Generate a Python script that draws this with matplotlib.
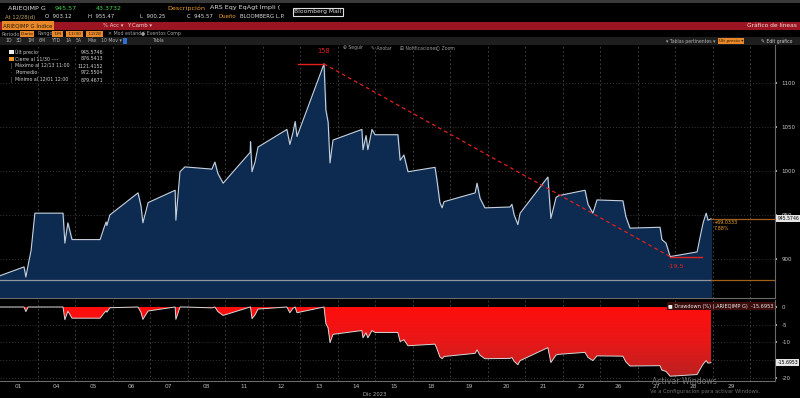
import numpy as np
import matplotlib
matplotlib.use('Agg')
from matplotlib import pyplot as plt
from matplotlib.patches import Rectangle
from matplotlib.colors import LinearSegmentedColormap
import matplotlib.transforms as mtransforms

# position in trading days since 12/01 (one unit = one session)
t = [0.00, 0.64, 0.69, 0.75, 0.83, 0.93, 1.68, 1.73, 1.81, 1.92,
     2.67, 2.77, 2.83, 2.85, 2.93, 3.68, 3.76, 3.81, 3.95, 4.67,
     4.69, 4.80, 4.93, 5.65, 5.73, 5.81, 5.95, 6.67, 6.68, 6.72,
     6.80, 6.88, 7.65, 7.73, 7.81, 7.87, 7.92, 8.64, 8.69, 8.75,
     8.80, 8.88, 9.65, 9.68, 9.76, 9.81, 9.92, 10.00, 10.61, 10.67,
     10.77, 10.88, 11.60, 11.65, 11.73, 11.79, 11.84, 12.67, 12.72, 12.80,
     12.93, 13.60, 13.65, 13.71, 13.81, 13.87, 14.61, 14.69, 14.83, 14.91,
     15.60, 15.68, 15.81, 15.92, 16.61, 16.69, 16.80, 17.60, 17.65, 17.76,
     17.87, 18.59, 18.67, 18.75, 18.83, 18.88, 18.96]
price = [881, 891, 879.5, 893, 910, 952, 952, 918, 941, 922,
         922, 935, 942, 938, 950, 975, 960, 941, 964, 978,
         944, 999, 1004.5, 1002, 1010, 997, 986, 1021, 1033, 999,
         1010, 1027, 1047, 1030, 1043, 1056, 1039, 1121.4, 1069, 1055,
         1009, 1035, 1047, 1024, 1040, 1024, 1047, 1041, 1041, 1012,
         1018, 999, 1004, 990, 964, 958, 965, 975, 986, 969,
         958, 959, 962, 950, 939, 952, 993, 946, 970, 972,
         978, 962, 952, 967, 966, 948, 935, 936, 922, 918,
         902.7, 908, 925, 941, 952, 944, 945.57]

days = ['01', '04', '05', '06', '07', '08', '11', '12', '13', '14',
        '15', '18', '19', '20', '21', '22', '26', '27', '28', '29']

last_price = 945.5746
prev_close = 876.5413
dd_last = -15.6953
max_dd = -19.5
legend_rows = [('Últ precio', '945.5746'),
               ('Cierre al 11/30 ----', '876.5413'),
               ('Máximo al 12/13 11:00', '1121.4152'),
               ('Promedio', '972.5504'),
               ('Mínimo al 12/01 12:00', '879.4671')]

W, H = 800, 398
BG = 'black'
GRID = '#4a4a4a'
TXT = '#c8c8c8'
ORANGE = '#f0a030'
RED = '#e3201e'
BOXTXT = '#2a1a00'

fig = plt.figure(figsize=(8, 3.98), dpi=100, facecolor=BG)


def fx(x):
    return x / W


def fy(y):
    return 1 - y / H


def ftext(x, y, s, **kw):
    kw.setdefault('color', TXT)
    kw.setdefault('fontsize', 4.2)
    kw.setdefault('va', 'center')
    fig.text(fx(x), fy(y), s, **kw)


def frect(x0, y0, x1, y1, **kw):
    fig.patches.append(Rectangle((fx(x0), fy(y1)), fx(x1) - fx(x0), fy(y0) - fy(y1),
                                 transform=fig.transFigure, **kw))


def obox(x, y, s, size=3.4):
    ftext(x, y, s, fontsize=size, color=BOXTXT,
          bbox=dict(boxstyle='square,pad=0.15', fc='#e8882a', ec='none'))


# ---- terminal header
frect(0, 0, 800, 3, facecolor='#3a3a3a', lw=0)
frect(0, 22, 800, 30, facecolor='#9a1521', lw=0)
frect(0, 37, 800, 45, facecolor='#1e1e1e', lw=0)

ftext(8, 8, 'ARIEQIMP G', color='#dddddd', fontsize=4.6)
ftext(55, 8, '945.57', color='#3fcf4a', fontsize=4.6)
ftext(96, 8, '43.3732', color='#3fcf4a', fontsize=4.6)
ftext(167, 8, 'Descripción', color=ORANGE, fontsize=4.6)
ftext(210, 8, 'ARS Eqy EqAgt Impli (', color='#dddddd', fontsize=4.6)
ftext(318, 12, 'Bloomberg Mail', color='#e0e0e0', fontsize=4.3, ha='center',
      bbox=dict(boxstyle='square,pad=0.3', fc='black', ec='#e0e0e0', lw=0.8))

ftext(5, 17, 'At 12/28(d)', color='#c0a060', fontsize=3.9)
for x, s in [(45, 'O  903.12'), (88, 'H  955.47'), (140, 'L  900.25'), (187, 'C  945.57')]:
    ftext(x, 17, s, color='#dddddd', fontsize=3.9)
ftext(218, 17, 'Dueño', color=ORANGE, fontsize=3.9)
ftext(240, 17, 'BLOOMBERG L.P.', color='#dddddd', fontsize=3.9)

ftext(3, 25.5, 'ARIEQIMP G Índice', color=BOXTXT, fontsize=3.9,
      bbox=dict(boxstyle='square,pad=0.25', fc='#e8882a', ec='none'))
ftext(103, 25.5, '% Acc ▾', color='#f0d0d0', fontsize=3.9)
ftext(127, 25.5, 'Y Camb ▾', color='#f0d0d0', fontsize=3.9)
ftext(797, 25.5, 'Gráfico de líneas', color='#f2e0e0', fontsize=4.2, ha='right')

ftext(2, 34, 'Periodo', fontsize=3.5, color='#a0a0a0')
obox(21, 34, 'Diario', 3.2)
ftext(37, 34, 'Rango', fontsize=3.5, color='#a0a0a0')
obox(53, 34, ' 1M ', 3.2)
obox(67, 34, ' 11/30 ', 3.2)
obox(87, 34, ' 12/28 ', 3.2)
ftext(108, 34, '✕ Mod estánd /', fontsize=3.4, color='#a0a0a0')
ftext(141, 34, '● Eventos Comp', fontsize=3.4, color='#a0a0a0')

for x, s in [(5, '1D'), (16, '3D'), (27, '1M'), (39, '6M'), (51, 'YTD'), (65, '1A'),
             (76, '5A'), (87, 'Máx'), (101, '10 Mov ▾')]:
    ftext(x, 41, s, fontsize=3.3, color='#b0b0b0')
ftext(124, 41, '  ', fontsize=3.2, bbox=dict(boxstyle='square,pad=0.15', fc='#2f6fd0', ec='none'))
ftext(152, 41, 'Tabla', fontsize=3.3, color='#b0b0b0')
ftext(666, 41, '▾ Tablas pertinentes ▾', fontsize=3.3, color='#b0b0b0')
obox(719, 41, 'Últ precio ▾', 3.2)
ftext(761, 41, '✎ Edit gráfico', fontsize=3.3, color='#d0d0d0')

# ---- axes
x_end = 775 / 37.5
ax = fig.add_axes([0, fy(298), fx(775), fy(44) - fy(298)], facecolor=BG)
ax2 = fig.add_axes([0, fy(381), fx(775), fy(300) - fy(381)], facecolor=BG, sharex=ax)

t_arr = np.array(t)
p_arr = np.array(price)
dd = (p_arr / np.maximum.accumulate(p_arr) - 1) * 100

for a in (ax, ax2):
    a.set_xlim(0, x_end)
    a.set_xticks(np.arange(1, len(days) + 1), minor=True)
    a.grid(True, which='minor', axis='x', color=GRID, ls=(0, (2, 3)), lw=0.6)
    a.grid(True, which='major', axis='y', color=GRID, ls=(0, (1, 2.5)), lw=0.6)
    for s in ('top', 'left'):
        a.spines[s].set_visible(False)
    a.spines['right'].set_color('#6a6a6a')
    a.spines['bottom'].set_color('#6a6a6a')
    a.yaxis.tick_right()
    a.tick_params(axis='y', colors=TXT, labelsize=4.0, length=1.5, width=1.2, pad=3)
    a.tick_params(axis='x', which='both', length=0)
    a.set_axisbelow(True)

ax.set_ylim(855.7, 1144)
ax.set_yticks([900, 950, 1000, 1050, 1100])
ax.tick_params(axis='x', labelbottom=False)

ax.fill_between(t_arr, p_arr, 800, color='#0d2a50', zorder=2)
ax.plot(t_arr, p_arr, color='#c8d2dc', lw=0.8, zorder=3)

# reference lines
ax.plot([0, t_arr[-1]], [prev_close, prev_close], color='#8f96a0', lw=0.9, zorder=3)
ax.plot([t_arr[-1], x_end], [prev_close, prev_close], color='#a0601c', lw=0.9, zorder=3)
ax.plot([t_arr[-1], x_end], [last_price, last_price], color='#a0601c', lw=0.9, zorder=3)

# max drawdown annotation
i_pk = int(np.argmax(p_arr))
i_tr = int(np.argmin(p_arr[i_pk:])) + i_pk
ax.plot([t_arr[i_pk], t_arr[i_tr]], [p_arr[i_pk], p_arr[i_tr]], color=RED, ls=(0, (3, 2.5)), lw=0.9, zorder=4)
ax.plot([t_arr[i_pk] - 0.7, t_arr[i_pk]], [p_arr[i_pk], p_arr[i_pk]], color=RED, lw=1.0, zorder=4)
ax.plot([t_arr[i_tr], t_arr[i_tr] + 0.85], [p_arr[i_tr], p_arr[i_tr]], color=RED, lw=1.0, zorder=4)
ax.annotate('158', (t_arr[i_pk], p_arr[i_pk]), xytext=(0, 9), textcoords='offset points',
            color=RED, fontsize=4.8, ha='center', va='center')
ax.annotate(f'{max_dd:.1f}', (t_arr[i_tr], p_arr[i_tr]), xytext=(4, -7), textcoords='offset points',
            color=RED, fontsize=4.6, ha='center', va='center')

chg = last_price - prev_close
ax.annotate(f'+{chg:.4f}\n{chg / prev_close * 100:.2f}%', (t_arr[-1], last_price), xytext=(2, -5),
            textcoords='offset points', color=ORANGE, fontsize=3.5, ha='left', va='center',
            linespacing=1.3)

ytr = mtransforms.blended_transform_factory(ax.transAxes, ax.transData)
ax.text(1.003, last_price, f'{last_price:.4f}', transform=ytr, color='black', fontsize=3.3,
        va='center', ha='left', zorder=10, clip_on=False,
        bbox=dict(boxstyle='square,pad=0.2', fc='#e6e6e6', ec='none'))

# legend block
for k, (lab, val) in enumerate(legend_rows):
    yy = 52 + k * 7
    if k == 0:
        frect(9, yy - 2.3, 13.5, yy + 2.3, facecolor='#f0f0f0', lw=0)
    elif k == 1:
        frect(9, yy - 2.3, 13.5, yy + 2.3, facecolor='#f09a20', lw=0)
    else:
        ftext(10, yy, '│' if k != 3 else '·', fontsize=3.5, color='#9aa0a8')
    ftext(15, yy, lab, fontsize=3.4, color='#d0d0d0')
    ftext(103, yy, val, fontsize=3.4, color='#d0d0d0', ha='right')

for x, s in [(343, '⊕ Seguir'), (371, '✎ Anotar'), (400, '⊞ Notificaciones'), (436, '○ Zoom')]:
    ftext(x, 48, s, fontsize=3.3, color='#9a9a9a')

# ---- drawdown panel
ax2.set_ylim(-20.85, 1.97)
ax2.set_yticks([0, -5, -10, -15, -20])
ax2.set_yticklabels(['0', '-5', '-10', '', '-20'])
poly = ax2.fill_between(t_arr, dd, 0, color='none', lw=0, zorder=2)
cmap = LinearSegmentedColormap.from_list('dd', ['#ff0d0d', '#e81818', '#b82222'])
grad = np.linspace(0, 1, 256).reshape(-1, 1)
im = ax2.imshow(grad, extent=[t_arr[0], t_arr[-1], -20, 0], aspect='auto', cmap=cmap,
                origin='upper', zorder=2)
im.set_clip_path(poly.get_paths()[0], transform=ax2.transData)
ax2.set_xlim(0, x_end)
ax2.set_ylim(-20.85, 1.97)
ax2.plot(t_arr, dd, color='#d8d8d8', lw=0.7, zorder=3)

ytr2 = mtransforms.blended_transform_factory(ax2.transAxes, ax2.transData)
ax2.text(1.003, dd_last, f'{dd_last:.4f}', transform=ytr2, color='black', fontsize=3.3,
         va='center', ha='left', zorder=10, clip_on=False,
         bbox=dict(boxstyle='square,pad=0.2', fc='#e6e6e6', ec='none'))
ax2.text(0.862, 0.92, '■ Drawdown (%) (.ARIEQIMP G)  -15.6953', transform=ax2.transAxes,
         color='#f0f0f0', fontsize=3.6, va='center', ha='left', zorder=10,
         bbox=dict(boxstyle='square,pad=0.3', fc='#3a0c0c', ec='none'))

ax2.set_xticks(np.arange(len(days)) + 0.5)
ax2.set_xticklabels(days)
ax2.tick_params(axis='x', colors='#b8b8b8', labelsize=4.2, pad=2.5)
ftext(375, 394, 'Dic 2023', fontsize=3.8, color='#b0b0b0', ha='center')

# watermark
ftext(652, 381, 'Activar Windows', fontsize=5.6, color='#8a8a8a', alpha=0.8)
ftext(650, 391, 'Ve a Configuración para activar Windows.', fontsize=3.8, color='#8a8a8a', alpha=0.8)

fig.savefig('out.png', dpi=100, facecolor=BG)
